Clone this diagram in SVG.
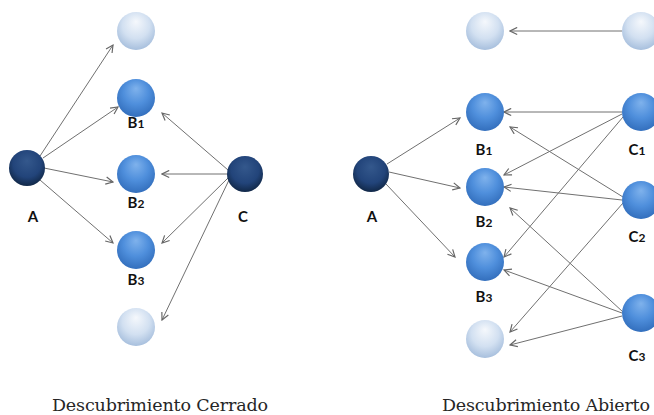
<svg xmlns="http://www.w3.org/2000/svg" width="654" height="415" viewBox="0 0 654 415">
  <style>
    .edge { stroke: #707070; stroke-width: 1; fill: none; marker-end: url(#arrow); }
    .lbl { font-family: Lato, "Liberation Sans", sans-serif; font-weight: bold; font-size: 15px; fill: #111111; text-anchor: middle; }
    .sub { font-size: 12px; }
    .cap { font-family: "DejaVu Serif", "Liberation Serif", serif; font-size: 17.5px; fill: #262626; text-anchor: middle; }
    .dark { fill: url(#gDark); }
    .mid { fill: url(#gMid); }
    .light { fill: url(#gLight); }
  </style>
  <defs>
    <radialGradient id="gDark" cx="50%" cy="40%" r="60%" fx="50%" fy="30%">
      <stop offset="0%" stop-color="#34588c"/>
      <stop offset="65%" stop-color="#22447a"/>
      <stop offset="100%" stop-color="#112848"/>
    </radialGradient>
    <radialGradient id="gMid" cx="50%" cy="40%" r="60%" fx="50%" fy="25%">
      <stop offset="0%" stop-color="#7fb2ec"/>
      <stop offset="55%" stop-color="#4f8fdc"/>
      <stop offset="100%" stop-color="#336fbd"/>
    </radialGradient>
    <radialGradient id="gLight" cx="50%" cy="40%" r="60%" fx="50%" fy="25%">
      <stop offset="0%" stop-color="#f5f8fc"/>
      <stop offset="60%" stop-color="#d2e0f1"/>
      <stop offset="100%" stop-color="#a7bfdd"/>
    </radialGradient>
    <marker id="arrow" viewBox="0 0 10 10" refX="9" refY="5" markerWidth="9" markerHeight="9" markerUnits="userSpaceOnUse" orient="auto">
      <path d="M1,1 L9,5 L1,9" fill="none" stroke="#666666" stroke-width="1.3"/>
    </marker>
  </defs>

  <!-- connectors -->
  <g id="connectors">
    <!-- closed discovery -->
    <line class="edge" x1="40" y1="156" x2="113" y2="45"/>
    <line class="edge" x1="43" y1="158" x2="118" y2="107"/>
    <line class="edge" x1="44" y1="168" x2="113" y2="182"/>
    <line class="edge" x1="40" y1="180" x2="113" y2="243"/>
    <line class="edge" x1="228" y1="170" x2="162" y2="113"/>
    <line class="edge" x1="227" y1="174" x2="162" y2="174"/>
    <line class="edge" x1="228" y1="178" x2="162" y2="243"/>
    <line class="edge" x1="229" y1="180" x2="162" y2="320"/>
    <!-- open discovery -->
    <line class="edge" x1="622" y1="31" x2="510" y2="31"/>
    <line class="edge" x1="387" y1="164" x2="460" y2="118"/>
    <line class="edge" x1="389" y1="172" x2="460" y2="188"/>
    <line class="edge" x1="386" y1="184" x2="455" y2="257"/>
    <line class="edge" x1="622" y1="112" x2="504" y2="112"/>
    <line class="edge" x1="622" y1="114" x2="504" y2="175"/>
    <line class="edge" x1="623" y1="117" x2="504" y2="257"/>
    <line class="edge" x1="623" y1="197" x2="510" y2="127"/>
    <line class="edge" x1="622" y1="200" x2="504" y2="187"/>
    <line class="edge" x1="623" y1="203" x2="510" y2="332"/>
    <line class="edge" x1="623" y1="312" x2="510" y2="208"/>
    <line class="edge" x1="622" y1="313" x2="504" y2="270"/>
    <line class="edge" x1="622" y1="316" x2="510" y2="345"/>
  </g>

  <!-- closed discovery nodes -->
  <g id="closed-A"><circle class="dark" cx="27" cy="168" r="18"/><text class="lbl" x="33" y="222">A</text></g>
  <g id="closed-top"><circle class="light" cx="136" cy="31" r="19"/></g>
  <g id="closed-B1"><circle class="mid" cx="136" cy="98" r="19"/><text class="lbl" x="136" y="128">B<tspan class="sub">1</tspan></text></g>
  <g id="closed-B2"><circle class="mid" cx="136" cy="174" r="19"/><text class="lbl" x="136" y="208">B<tspan class="sub">2</tspan></text></g>
  <g id="closed-B3"><circle class="mid" cx="136" cy="250" r="19"/><text class="lbl" x="136" y="285">B<tspan class="sub">3</tspan></text></g>
  <g id="closed-bottom"><circle class="light" cx="136" cy="327" r="19"/></g>
  <g id="closed-C"><circle class="dark" cx="245" cy="174" r="18"/><text class="lbl" x="243" y="222">C</text></g>

  <!-- open discovery nodes -->
  <g id="open-A"><circle class="dark" cx="371" cy="174" r="18"/><text class="lbl" x="372" y="222">A</text></g>
  <g id="open-top-left"><circle class="light" cx="485" cy="31" r="19"/></g>
  <g id="open-top-right"><circle class="light" cx="641" cy="31" r="19"/></g>
  <g id="open-B1"><circle class="mid" cx="485" cy="112" r="19"/><text class="lbl" x="484" y="155">B<tspan class="sub">1</tspan></text></g>
  <g id="open-B2"><circle class="mid" cx="485" cy="187" r="19"/><text class="lbl" x="484" y="227">B<tspan class="sub">2</tspan></text></g>
  <g id="open-B3"><circle class="mid" cx="485" cy="262" r="19"/><text class="lbl" x="484" y="302">B<tspan class="sub">3</tspan></text></g>
  <g id="open-bottom"><circle class="light" cx="485" cy="339" r="19"/></g>
  <g id="open-C1"><circle class="mid" cx="641" cy="112" r="19"/><text class="lbl" x="637" y="155">C<tspan class="sub">1</tspan></text></g>
  <g id="open-C2"><circle class="mid" cx="641" cy="200" r="19"/><text class="lbl" x="637" y="242">C<tspan class="sub">2</tspan></text></g>
  <g id="open-C3"><circle class="mid" cx="641" cy="313" r="19"/><text class="lbl" x="637" y="361">C<tspan class="sub">3</tspan></text></g>

  <!-- captions -->
  <text class="cap" x="160" y="411" textLength="216">Descubrimiento Cerrado</text>
  <text class="cap" x="546" y="411" textLength="208">Descubrimiento Abierto</text>
</svg>
